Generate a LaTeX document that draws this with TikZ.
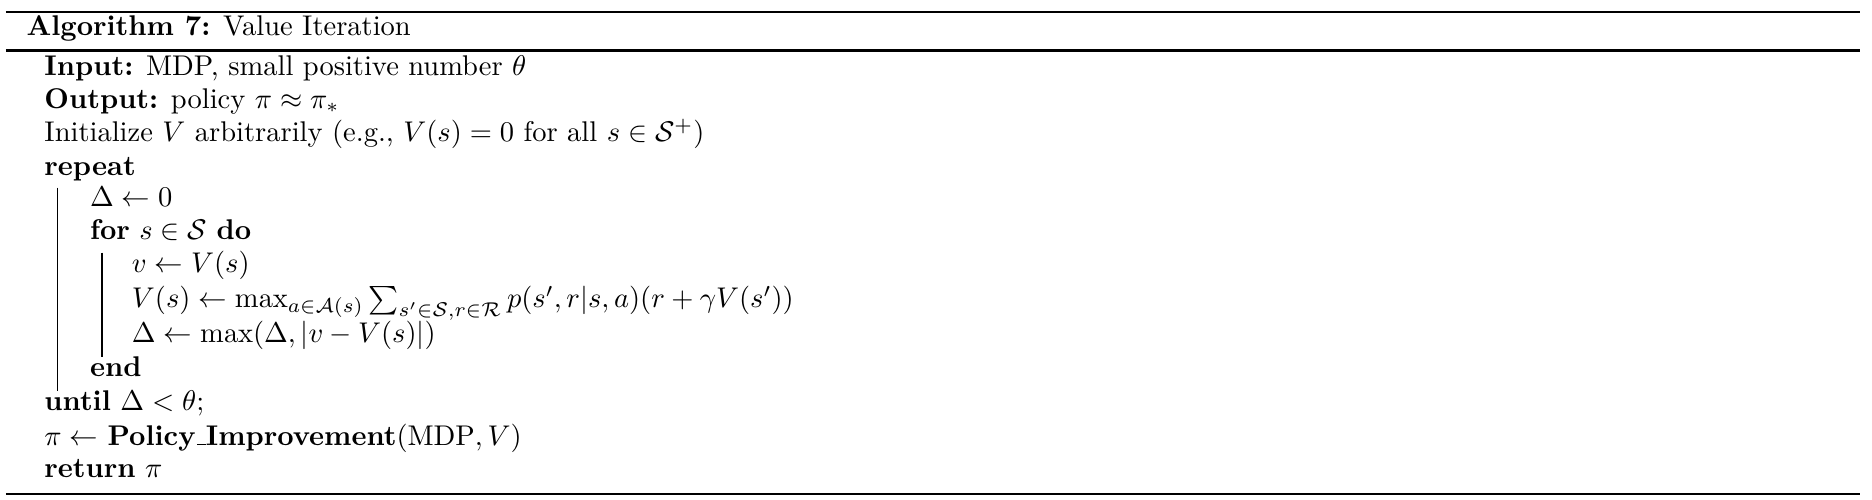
\documentclass[tikz,border=0pt]{standalone}
\usepackage{amsmath,amssymb}
\newcommand{\cmunderscore}{\leavevmode\kern.06em\vbox{\hrule width.3em}}
\begin{document}
\begin{tikzpicture}[x=1pt,y=-1pt,
  txt/.style={anchor=base west, inner sep=0pt, outer sep=0pt, font=\fontsize{10}{12}\selectfont},
  heavyrule/.style={line width=0.8pt, black},
  blockbar/.style={line width=0.4pt, black}]
\useasboundingbox (0,0) rectangle (656.8,175.4);
% rules
\coordinate (t1) at (2.1,4.2);   \coordinate (t2) at (652.5,4.2);
\coordinate (m1) at (2.1,17.7);  \coordinate (m2) at (652.5,17.7);
\coordinate (b1) at (2.1,173.4); \coordinate (b2) at (652.5,173.4);
\draw[heavyrule] (t1) -- (t2);
\draw[heavyrule] (m1) -- (m2);
\draw[heavyrule] (b1) -- (b2);
% text
\node[txt] (title) at (9.3,12.6) {\textbf{Algorithm 7:} Value Iteration};
\node[txt] (in) at (15.6,26.5) {\textbf{Input:} MDP, small positive number $\theta$};
\node[txt] (out) at (15.6,37.9) {\textbf{Output:} policy $\pi \approx \pi_*$};
\node[txt] (init) at (15.6,49.7) {Initialize $V$ arbitrarily (e.g., $V(s) = 0$ for all $s \in \mathcal{S}^+$)};
\node[txt] (rep) at (15.6,61.5) {\textbf{repeat}};
\node[txt] (d0) at (31.6,72.6) {$\Delta \leftarrow 0$};
\node[txt] (for) at (31.6,83.9) {\textbf{for} $s \in \mathcal{S}$ \textbf{do}};
\node[txt] (v) at (46.3,95.6) {$v \leftarrow V(s)$};
\node[txt] (upd) at (46.3,107.9) {$V(s) \leftarrow \max_{a\in\mathcal{A}(s)} \sum_{s'\in\mathcal{S}, r\in\mathcal{R}} p(s',r|s,a)(r+\gamma V(s'))$};
\node[txt] (dm) at (46.3,120.1) {$\Delta \leftarrow \max(\Delta, |v - V(s)|)$};
\node[txt] (end) at (31.6,132.2) {\textbf{end}};
\node[txt] (until) at (15.6,144.1) {\textbf{until} $\Delta < \theta$;};
\node[txt] (pi) at (15.6,156.2) {$\pi \leftarrow$ \textbf{Policy\cmunderscore Improvement}$(\mathrm{MDP}, V)$};
\node[txt] (ret) at (15.6,167.6) {\textbf{return} $\pi$};
% block bars
\coordinate (o1) at (20.2,65.8);  \coordinate (o2) at (20.2,137.2);
\coordinate (i1) at (35.8,88.6);  \coordinate (i2) at (35.8,125.3);
\draw[blockbar] (o1) -- (o2);
\draw[blockbar] (i1) -- (i2);
\end{tikzpicture}
\end{document}
